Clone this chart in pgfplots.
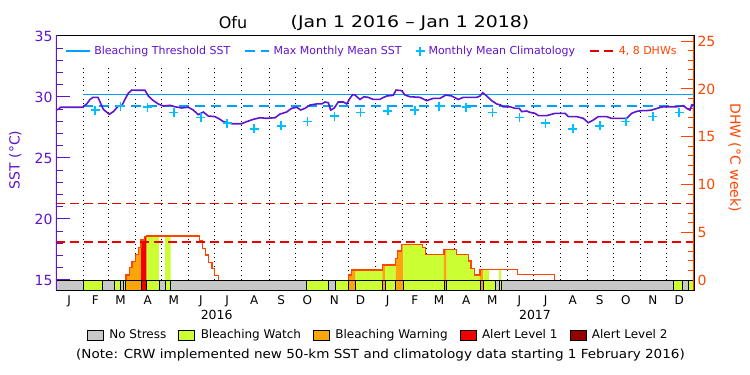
\documentclass[border=0pt]{standalone}
\usepackage{graphicx}
\usepackage{pgfplots}
\pgfplotsset{compat=1.18}
\usepackage{fontspec}
\setmainfont{DejaVu Sans}
\definecolor{sstcol}{RGB}{95,20,205}
\definecolor{threshcol}{RGB}{0,160,255}
\definecolor{climcol}{RGB}{0,190,255}
\definecolor{dhwcol}{RGB}{255,69,0}
\definecolor{dhwred}{RGB}{235,0,0}
\definecolor{nostress}{RGB}{200,200,200}
\definecolor{watch}{RGB}{204,255,51}
\definecolor{warning}{RGB}{250,165,10}
\definecolor{alertone}{RGB}{240,0,0}
\definecolor{alerttwo}{RGB}{150,0,0}
\begin{document}
\begin{tikzpicture}
\useasboundingbox (-56pt,-85pt) rectangle (694pt,290pt);
% ---------------- DHW axis (right) ----------------
\begin{axis}[
  scale only axis, width=638pt, height=254.5pt,
  at={(0pt,0pt)}, anchor=south west,
  xmin=0, xmax=731, ymin=-1.047, ymax=25.6,
  axis line style={draw=none},
  xtick=\empty,
  ytick={0,5,10,15,20,25}, minor tick num=4,
  ytick pos=right, tick align=inside,
  major tick length=13pt, minor tick length=6pt,
  ytick style={draw=dhwcol, line width=1pt},
  /pgf/number format/assume math mode=true,
  yticklabel style={font=\fontsize{14}{16}\selectfont, text=dhwcol},
  every axis y label/.style={at={(axis description cs:1.064,0.52)}, rotate=-90, anchor=center},
  ylabel={DHW (°C week)},
  ylabel style={font=\fontsize{14}{16}\selectfont, text=dhwcol},
  legend style={at={(0.505,-0.177)}, anchor=center, draw=none, fill=none,
    legend columns=5, font=\fontsize{12}{14}\selectfont,
    /tikz/every even column/.append style={column sep=10pt},
    /tikz/every odd column/.append style={column sep=4pt}},
  legend image code/.code={\draw[#1,draw=black] (0pt,-5pt) rectangle (16pt,5pt);},
]
% monthly dotted lines
\addplot[forget plot, ycomb, draw=black, line width=0.9pt, dash pattern=on 1pt off 3.4pt, mark=none] coordinates {
(31,22.5) (60,22.5) (91,22.5) (121,22.5) (152,22.5) (182,22.5) (213,22.5) (244,22.5) (274,22.5) (305,22.5) (335,22.5)
(366,22.5) (397,22.5) (425,22.5) (456,22.5) (486,22.5) (517,22.5) (547,22.5) (578,22.5) (609,22.5) (639,22.5) (670,22.5) (700,22.5)};
% DHW fills
\addplot[forget plot, const plot, fill=warning, draw=none] coordinates {(80.2,0) (80.2,0.52) (84,1.29) (87.1,1.92) (90.9,2.69) (94.3,3.42) (97.4,0)} -- cycle;
\addplot[forget plot, const plot, fill=alertone, draw=none] coordinates {(97.4,0) (97.4,4.19) (101.2,4.54) (103.9,0)} -- cycle;
\addplot[forget plot, const plot, fill=watch, draw=none] coordinates {(103.9,0) (103.9,4.61) (118,0)} -- cycle;
\addplot[forget plot, const plot, fill=watch, draw=none] coordinates {(124.9,0) (124.9,4.61) (131.4,0)} -- cycle;
\addplot[forget plot, const plot, fill=warning, draw=none] coordinates {(335,0) (335,0.52) (338.8,1.05) (343.4,0)} -- cycle;
\addplot[forget plot, const plot, fill=watch, draw=none] coordinates {(343.4,0) (343.4,1.05) (373.9,0)} -- cycle;
\addplot[forget plot, const plot, fill=warning, draw=none] coordinates {(373.9,0) (373.9,1.57) (377,0)} -- cycle;
\addplot[forget plot, const plot, fill=watch, draw=none] coordinates {(377,0) (377,1.57) (389.2,0)} -- cycle;
\addplot[forget plot, const plot, fill=warning, draw=none] coordinates {(389.2,0) (389.2,2.27) (391,3.04) (396.1,3.73) (398,0)} -- cycle;
\addplot[forget plot, const plot, fill=watch, draw=none] coordinates {(398,0) (398,3.73) (419.7,3.39) (423.6,2.69) (444.5,0)} -- cycle;
\addplot[forget plot, const plot, fill=warning, draw=none] coordinates {(444.5,0) (444.5,3.21) (447.6,0)} -- cycle;
\addplot[forget plot, const plot, fill=watch, draw=none] coordinates {(447.6,0) (447.6,3.21) (459.1,2.69) (472.4,1.99) (475.5,1.22) (479.3,0.52) (485.8,0)} -- cycle;
\addplot[forget plot, const plot, fill=warning, draw=none] coordinates {(485.8,0) (485.8,1.12) (489.6,0)} -- cycle;
\addplot[forget plot, const plot, fill=watch, draw=none] coordinates {(489.6,0) (489.6,1.12) (496.4,0)} -- cycle;
\addplot[forget plot, const plot, fill=watch, draw=none] coordinates {(507.5,0) (507.5,1.12) (510,0)} -- cycle;
% DHW outline
\addplot[forget plot, const plot, draw=dhwcol, line width=1.3pt] coordinates {(80.2,0) (80.2,0.52) (84,1.29) (87.1,1.92) (90.9,2.69) (94.3,3.42) (97.4,4.19) (101.2,4.54) (103.9,4.61) (164.2,4.08) (168.1,3.32) (171.5,2.62) (174.5,1.85) (178.7,1.22) (181.8,0.45) (186,0)};
\addplot[forget plot, const plot, draw=dhwcol, line width=1.3pt] coordinates {(335,0) (335,0.52) (338.8,1.05) (373.9,1.57) (389.2,2.27) (391,3.04) (396.1,3.73) (419.7,3.39) (423.6,2.69) (444.5,3.21) (459.1,2.69) (472.4,1.99) (475.5,1.22) (479.3,0.52) (485.8,1.12) (528.5,0.59) (570.9,0)};
% 4 and 8 DHW lines
\addplot[forget plot, draw=dhwred, line width=1.7pt, dash pattern=on 9pt off 5pt] coordinates {(0,4) (731,4)};
\addplot[forget plot, draw=dhwred, line width=1.7pt, dash pattern=on 9pt off 5pt] coordinates {(0,8) (731,8)};
% alert strip
\addplot[forget plot, fill=nostress, draw=black, line width=0.9pt] coordinates {(0,0) (731,0) (731,-1.2) (0,-1.2)} -- cycle;
\addplot[forget plot, fill=watch, draw=black, line width=0.9pt] coordinates {(31,0) (53,0) (53,-1.2) (31,-1.2)} -- cycle;
\addplot[forget plot, fill=watch, draw=black, line width=0.9pt] coordinates {(67,0) (74,0) (74,-1.2) (67,-1.2)} -- cycle;
\addplot[forget plot, fill=watch, draw=black, line width=0.9pt] coordinates {(77,0) (80,0) (80,-1.2) (77,-1.2)} -- cycle;
\addplot[forget plot, fill=warning, draw=black, line width=0.9pt] coordinates {(80,0) (97.4,0) (97.4,-1.2) (80,-1.2)} -- cycle;
\addplot[forget plot, fill=alertone, draw=black, line width=0.9pt] coordinates {(97.4,0) (103.9,0) (103.9,-1.2) (97.4,-1.2)} -- cycle;
\addplot[forget plot, fill=watch, draw=black, line width=0.9pt] coordinates {(103.9,0) (118,0) (118,-1.2) (103.9,-1.2)} -- cycle;
\addplot[forget plot, fill=watch, draw=black, line width=0.9pt] coordinates {(124.9,0) (131.4,0) (131.4,-1.2) (124.9,-1.2)} -- cycle;
\addplot[forget plot, fill=watch, draw=black, line width=0.9pt] coordinates {(286.4,0) (312,0) (312,-1.2) (286.4,-1.2)} -- cycle;
\addplot[forget plot, fill=watch, draw=black, line width=0.9pt] coordinates {(319.7,0) (335,0) (335,-1.2) (319.7,-1.2)} -- cycle;
\addplot[forget plot, fill=warning, draw=black, line width=0.9pt] coordinates {(335,0) (343.4,0) (343.4,-1.2) (335,-1.2)} -- cycle;
\addplot[forget plot, fill=watch, draw=black, line width=0.9pt] coordinates {(343.4,0) (373.9,0) (373.9,-1.2) (343.4,-1.2)} -- cycle;
\addplot[forget plot, fill=warning, draw=black, line width=0.9pt] coordinates {(373.9,0) (377,0) (377,-1.2) (373.9,-1.2)} -- cycle;
\addplot[forget plot, fill=watch, draw=black, line width=0.9pt] coordinates {(377,0) (389.2,0) (389.2,-1.2) (377,-1.2)} -- cycle;
\addplot[forget plot, fill=warning, draw=black, line width=0.9pt] coordinates {(389.2,0) (398,0) (398,-1.2) (389.2,-1.2)} -- cycle;
\addplot[forget plot, fill=watch, draw=black, line width=0.9pt] coordinates {(398,0) (444.5,0) (444.5,-1.2) (398,-1.2)} -- cycle;
\addplot[forget plot, fill=warning, draw=black, line width=0.9pt] coordinates {(444.5,0) (447.6,0) (447.6,-1.2) (444.5,-1.2)} -- cycle;
\addplot[forget plot, fill=watch, draw=black, line width=0.9pt] coordinates {(447.6,0) (485.8,0) (485.8,-1.2) (447.6,-1.2)} -- cycle;
\addplot[forget plot, fill=warning, draw=black, line width=0.9pt] coordinates {(485.8,0) (489.6,0) (489.6,-1.2) (485.8,-1.2)} -- cycle;
\addplot[forget plot, fill=watch, draw=black, line width=0.9pt] coordinates {(489.6,0) (503,0) (503,-1.2) (489.6,-1.2)} -- cycle;
\addplot[forget plot, fill=watch, draw=black, line width=0.9pt] coordinates {(507.9,0) (510.6,0) (510.6,-1.2) (507.9,-1.2)} -- cycle;
\addplot[forget plot, fill=watch, draw=black, line width=0.9pt] coordinates {(707.3,0) (718,0) (718,-1.2) (707.3,-1.2)} -- cycle;
\addplot[forget plot, fill=watch, draw=black, line width=0.9pt] coordinates {(724.5,0) (731,0) (731,-1.2) (724.5,-1.2)} -- cycle;
% right axis line
\draw[draw=dhwcol, line width=1.4pt] (rel axis cs:1,0) -- (rel axis cs:1,1);
% bottom legend
\addlegendimage{fill=nostress}\addlegendentry{No Stress}
\addlegendimage{fill=watch}\addlegendentry{Bleaching Watch}
\addlegendimage{fill=warning}\addlegendentry{Bleaching Warning}
\addlegendimage{fill=alertone}\addlegendentry{Alert Level 1}
\addlegendimage{fill=alerttwo}\addlegendentry{Alert Level 2}
\end{axis}
% ---------------- SST axis (left) ----------------
\begin{axis}[
  scale only axis, width=638pt, height=254.5pt,
  at={(0pt,0pt)}, anchor=south west,
  xmin=0, xmax=731, ymin=14.18, ymax=35.04,
  axis line style={black, line width=0.8pt},
  xtick={15,45,74,105,135,166,196,227,258,288,319,349,380,411,439,470,500,531,561,592,623,653,684,714},
  xticklabels={J,F,M,A,M,J,J,A,S,O,N,D,J,F,M,A,M,J,J,A,S,O,N,D},
  xtick style={draw=none},
  xticklabel style={font=\fontsize{12}{14}\selectfont, yshift=-2.5pt},
  ytick={15,20,25,30,35}, minor ytick={16,17,18,19,21,22,23,24,26,27,28,29,31,32,33,34},
  ytick pos=left, tick align=inside,
  major tick length=14pt, minor tick length=7pt,
  ytick style={draw=sstcol, line width=1pt},
  /pgf/number format/assume math mode=true,
  yticklabel style={font=\fontsize{14}{16}\selectfont, text=sstcol},
  every axis y label/.style={at={(axis description cs:-0.064,0.511)}, rotate=90, anchor=center},
  ylabel={SST (°C)},
  ylabel style={font=\fontsize{14}{16}\selectfont, text=sstcol},
  legend style={at={(0.495,0.939)}, anchor=center, draw=none, fill=none,
    legend columns=4, font=\fontsize{11}{13}\selectfont, text=sstcol,
    /tikz/every even column/.append style={column sep=12pt},
    /tikz/every odd column/.append style={column sep=2pt}},
  legend image code/.code={\draw[mark repeat=2,mark phase=2,#1] plot coordinates {(0pt,0pt) (12pt,0pt) (24pt,0pt)};},
]
\addplot[draw=threshcol, line width=1.3pt] coordinates {(31,30.22) (731,30.22)};
\addlegendentry{Bleaching Threshold SST}
\addplot[draw=threshcol, line width=1.3pt, dash pattern=on 10pt off 6pt] coordinates {(31,29.26) (731,29.26)};
\addlegendentry{Max Monthly Mean SST}
\addplot[only marks, mark=+, mark size=4.5pt, color=climcol, mark options={solid, draw=climcol, line width=1.7pt}] coordinates {
(45,28.93) (74,29.26) (105,29.16) (135,28.72) (166,28.33) (196,27.84) (227,27.4) (258,27.65) (288,27.98) (319,28.44) (349,28.74)
(380,28.88) (411,28.93) (439,29.26) (470,29.16) (500,28.74) (531,28.31) (561,27.84) (592,27.4) (623,27.65) (653,27.98) (684,28.39) (714,28.74)};
\addlegendentry{Monthly Mean Climatology}
\addlegendimage{draw=dhwred, line width=1.7pt, dash pattern=on 9pt off 5pt}
\addlegendentry{\textcolor{dhwcol}{4, 8 DHWs}}
\addplot[forget plot, draw=sstcol, line width=1.6pt] coordinates {
(0,28.93) (3,29.0) (5,29.16) (31,29.16) (32,29.26) (35.2,29.43) (39,29.8) (42.4,29.97) (48.1,29.97) (50.4,29.6) (54.2,28.99) (61.1,28.58) (65.7,28.8) (71.4,29.26) (75.3,29.26) (79,29.8) (82.8,30.3) (86.7,30.57) (92.5,30.55) (102,30.55) (105.8,30.08) (111.5,29.7) (117.2,29.43) (122.9,29.26) (130.6,29.32) (136.3,29.2) (144,29.1) (151.6,29.16) (157.3,28.93) (163,28.55) (168.8,28.77) (174.5,28.44) (182.2,28.39) (187.9,28.17) (191.7,27.98) (201.3,27.81) (212.8,27.81) (218.5,27.98) (226.1,28.17) (233.7,28.3) (241.4,28.25) (250.9,28.3) (256.6,28.6) (264.3,28.77) (270,29.07) (275.8,29.16) (280.4,28.93) (285.3,29.07) (291,29.34) (298.7,29.43) (304.4,29.43) (308.2,29.59) (312,29.53) (314.7,28.93) (318.5,29.07) (323.4,29.59) (329.2,29.59) (333.1,29.43) (336.8,29.89) (339.9,30.19) (342.6,30.16) (348.3,29.8) (352.9,30.02) (357.8,29.97) (363.5,29.8) (371.2,29.8) (373.1,29.89) (378.9,30.08) (386.5,30.14) (389.6,30.57) (396.1,30.52) (399.9,30.16) (405.6,30.02) (417,29.97) (424.7,29.7) (432.3,29.89) (440,29.89) (446.8,30.16) (453.4,30.08) (460.9,29.8) (466.7,29.97) (482,29.97) (485.8,30.08) (488.9,30.35) (493.5,30.08) (499.2,29.7) (504.9,29.43) (509.5,29.34) (512.5,29.2) (520.2,29.2) (525.9,29.07) (530.8,29.07) (533.6,28.8) (539.3,28.85) (543.1,28.74) (548.8,28.66) (552.6,28.47) (562.2,28.47) (571.7,28.66) (583.2,28.66) (587,28.39) (596.6,28.39) (604.2,28.25) (609.9,27.89) (615.6,28.11) (621.4,28.39) (631,28.39) (636.7,28.25) (653.9,28.25) (659.6,28.66) (665.3,28.82) (671.1,28.88) (676.8,28.88) (682.5,28.93) (690.1,29.1) (695.8,29.2) (711.2,29.2) (718.8,29.29) (722.6,29.07) (726.4,28.93) (728.4,29.34) (731,29.34)};
\draw[draw=sstcol, line width=1.4pt] (rel axis cs:0,0) -- (rel axis cs:0,1);
\end{axis}
% titles and annotations
\node[font=\fontsize{16}{18}\selectfont] at (177pt,267pt) {Ofu};
\node[font=\fontsize{16}{18}\selectfont] at (354pt,267pt) {\scalebox{1.18}[1]{(Jan 1 2016 – Jan 1 2018)}};
\node[font=\fontsize{12.5}{14}\selectfont] at (160.7pt,-25pt) {2016};
\node[font=\fontsize{12.5}{14}\selectfont] at (479pt,-25pt) {2017};
\node[font=\fontsize{12.5}{14}\selectfont] at (324.5pt,-65pt) {\scalebox{1.083}[1]{(Note: CRW implemented new 50-km SST and climatology data starting 1 February 2016)}};
\end{tikzpicture}
\end{document}
